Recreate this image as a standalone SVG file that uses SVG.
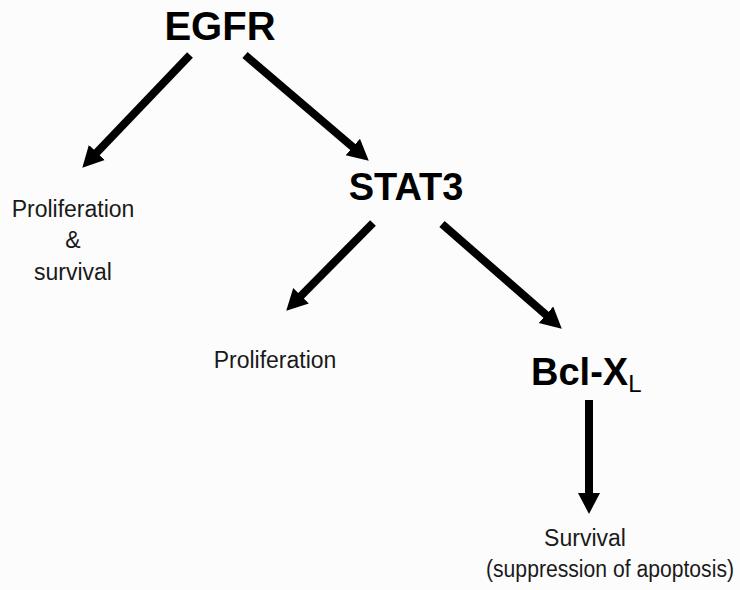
<svg xmlns="http://www.w3.org/2000/svg" width="740" height="590" viewBox="0 0 740 590">
<defs>
<style>
.node{font-family:"Liberation Sans",Arial,sans-serif;font-weight:bold;fill:#000}
.lbl{font-family:"Liberation Sans",Arial,sans-serif;fill:#1a1a1a;font-size:23px}
.conn line{stroke:#000;stroke-width:8;stroke-linecap:butt}
</style>
<marker id="ah" markerUnits="userSpaceOnUse" markerWidth="22" markerHeight="24" refX="8" refY="12" orient="auto" viewBox="0 0 22 24">
<path d="M0,1 L21,12 L0,23 z" fill="#000"/>
</marker>
</defs>
<rect width="740" height="590" fill="#fcfcfc"/>
<g id="connectors" class="conn">
<line x1="190" y1="55" x2="91.3" y2="158.3" marker-end="url(#ah)"/>
<line x1="245" y1="55" x2="358.9" y2="152.2" marker-end="url(#ah)"/>
<line x1="373" y1="223" x2="295.4" y2="301.5" marker-end="url(#ah)"/>
<line x1="442" y1="224" x2="552" y2="320.1" marker-end="url(#ah)"/>
<line x1="589" y1="400" x2="589" y2="501" marker-end="url(#ah)"/>
</g>
<g id="egfr"><text class="node" x="220" y="40" font-size="40" text-anchor="middle">EGFR</text></g>
<g id="stat3"><text class="node" x="406" y="200" font-size="38" text-anchor="middle">STAT3</text></g>
<g id="bclxl"><text class="node" x="531" y="385" font-size="38">Bcl-X<tspan font-weight="normal" font-size="24" dy="7">L</tspan></text></g>
<g id="prolif-survival"><text class="lbl" text-anchor="middle"><tspan x="73" y="217">Proliferation</tspan><tspan x="73" y="248">&amp;</tspan><tspan x="73" y="280">survival</tspan></text></g>
<g id="prolif"><text class="lbl" x="275" y="368" text-anchor="middle">Proliferation</text></g>
<g id="survival"><text class="lbl" x="585" y="546" text-anchor="middle">Survival</text><text class="lbl" x="486" y="577" font-size="22" textLength="248" lengthAdjust="spacingAndGlyphs">(suppression of apoptosis)</text></g>
</svg>
